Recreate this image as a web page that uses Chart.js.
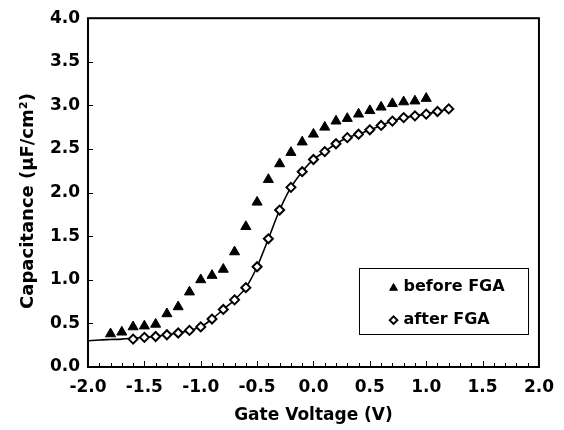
<!DOCTYPE html>
<html><head><meta charset="utf-8">
<script src="https://cdn.jsdelivr.net/npm/chart.js@4.4.1/dist/chart.umd.min.js"></script>
<style>html,body{margin:0;padding:0;background:#fff}</style>
</head><body>
<canvas id="c" width="564" height="430"></canvas>
<script>
// Data
const voltsBefore = [-1.8,-1.7,-1.6,-1.5,-1.4,-1.3,-1.2,-1.1,-1.0,-0.9,-0.8,-0.7,-0.6,-0.5,-0.4,-0.3,-0.2,-0.1,0.0,0.1,0.2,0.3,0.4,0.5,0.6,0.7,0.8,0.9,1.0];
const capBefore   = [0.38,0.40,0.46,0.47,0.49,0.61,0.69,0.86,1.00,1.05,1.12,1.32,1.61,1.89,2.15,2.33,2.46,2.58,2.67,2.75,2.82,2.85,2.90,2.94,2.98,3.02,3.04,3.05,3.08];
const voltsAfter = [-1.6,-1.5,-1.4,-1.3,-1.2,-1.1,-1.0,-0.9,-0.8,-0.7,-0.6,-0.5,-0.4,-0.3,-0.2,-0.1,0.0,0.1,0.2,0.3,0.4,0.5,0.6,0.7,0.8,0.9,1.0,1.1,1.2];
const capAfter   = [0.32,0.34,0.35,0.37,0.39,0.42,0.46,0.55,0.66,0.77,0.91,1.15,1.47,1.80,2.06,2.24,2.38,2.47,2.56,2.63,2.67,2.72,2.77,2.82,2.86,2.88,2.90,2.93,2.96];
const fitVolts = [-2.0,-1.9,-1.8,-1.7,-1.6,-1.5,-1.4,-1.3,-1.2,-1.1,-1.0,-0.9,-0.8,-0.7,-0.6,-0.5,-0.4,-0.3,-0.2,-0.1,0.0,0.1,0.2,0.3,0.4,0.5,0.6,0.7,0.8,0.9,1.0,1.1,1.2];
const fitCap   = [0.30,0.31,0.315,0.32,0.33,0.34,0.35,0.37,0.39,0.42,0.46,0.55,0.66,0.77,0.91,1.15,1.47,1.80,2.06,2.24,2.38,2.47,2.56,2.63,2.67,2.72,2.77,2.82,2.86,2.88,2.90,2.93,2.96];
const seriesNames = ['before FGA','after FGA'];
const xTitle = 'Gate Voltage (V)';
const yTitle = 'Capacitance (\u03BCF/cm\u00B2)';

const toXY = (xs, ys) => xs.map((x, i) => ({x: x, y: ys[i]}));
const FONT = '"DejaVu Sans", sans-serif';

const framePlugin = {
  id: 'frame',
  afterDraw(chart) {
    const {ctx, chartArea: a, scales} = chart;
    const xs = scales.x, ys = scales.y;
    ctx.save();
    ctx.strokeStyle = '#000';
    ctx.lineWidth = 1;
    // y inner ticks
    for (let v = 0; v <= 4.0001; v += 0.5) {
      const py = Math.round(ys.getPixelForValue(v)) + 0.5;
      ctx.beginPath(); ctx.moveTo(a.left, py); ctx.lineTo(a.left + 5, py); ctx.stroke();
    }
    // x inner ticks (minor 0.1)
    for (let i = -20; i <= 20; i++) {
      const px = Math.round(xs.getPixelForValue(i / 10)) + 0.5;
      const len = (i % 5 === 0) ? 6 : 4;
      ctx.beginPath(); ctx.moveTo(px, a.bottom); ctx.lineTo(px, a.bottom - len); ctx.stroke();
    }
    // frame
    ctx.lineWidth = 2;
    ctx.strokeRect(a.left, a.top, a.right - a.left, a.bottom - a.top);
    // y title
    ctx.fillStyle = '#000';
    ctx.font = 'bold 18px ' + FONT;
    ctx.textAlign = 'center';
    ctx.textBaseline = 'middle';
    ctx.translate(28, 201);
    ctx.rotate(-Math.PI / 2);
    ctx.fillText(yTitle, 0, 0);
    ctx.restore();

    // legend box
    ctx.save();
    const lx = xs.getPixelForValue(0.4), rx = xs.getPixelForValue(1.9);
    const ty = ys.getPixelForValue(1.13), by = ys.getPixelForValue(0.37);
    ctx.strokeStyle = '#000';
    ctx.lineWidth = 1;
    ctx.strokeRect(Math.round(lx) + 0.5, Math.round(ty) + 0.5, Math.round(rx - lx), Math.round(by - ty));
    ctx.font = 'bold 16px ' + FONT;
    ctx.textAlign = 'left';
    ctx.textBaseline = 'middle';
    ctx.fillStyle = '#000';
    const y1 = ty + (by - ty) * 0.28, y2 = ty + (by - ty) * 0.78;
    const mx = lx + 35;
    Chart.helpers.drawPoint(ctx, {pointStyle: 'triangle', radius: 4.5, rotation: 0, borderWidth: 1}, mx, y1 + 1);
    ctx.fillStyle = '#fff'; ctx.lineWidth = 2;
    Chart.helpers.drawPoint(ctx, {pointStyle: 'rectRot', radius: 3.8, rotation: 0, borderWidth: 2}, mx, y2);
    ctx.fillStyle = '#000';
    ctx.fillText(seriesNames[0], lx + 45, y1);
    ctx.fillText(seriesNames[1], lx + 45, y2);
    ctx.restore();
  }
};

new Chart(document.getElementById('c'), {
  type: 'scatter',
  data: {
    datasets: [
      {label: seriesNames[0], data: toXY(voltsBefore, capBefore), pointStyle: 'triangle', pointRadius: 5.8,
       backgroundColor: '#000', borderColor: '#000', borderWidth: 1, showLine: false, order: 0},
      {label: seriesNames[1], data: toXY(voltsAfter, capAfter), pointStyle: 'rectRot', pointRadius: 4.5,
       backgroundColor: '#fff', borderColor: '#000', borderWidth: 2, showLine: false, order: 1},
      {label: 'fit', data: toXY(fitVolts, fitCap), showLine: true, pointRadius: 0, borderColor: '#000',
       borderWidth: 1.6, tension: 0.3, order: 2}
    ]
  },
  options: {
    responsive: false,
    animation: false,
    layout: {padding: {left: 0, right: 22, top: 15, bottom: 0}},
    plugins: {legend: {display: false}, tooltip: {enabled: false}},
    scales: {
      x: {
        type: 'linear', min: -2, max: 2,
        grid: {display: false, drawTicks: false},
        border: {display: false},
        ticks: {stepSize: 0.5, padding: 10, color: '#000', font: {family: FONT, weight: 'bold', size: 17},
                callback: v => v.toFixed(1), maxRotation: 0, autoSkip: false},
        title: {display: true, text: xTitle, color: '#000', font: {family: FONT, weight: 'bold', size: 17}, padding: {top: 1, bottom: 4}},
        afterFit: s => { s.height = 63; }
      },
      y: {
        type: 'linear', min: 0, max: 4,
        grid: {display: false, drawTicks: false},
        border: {display: false},
        ticks: {stepSize: 0.5, padding: 8, color: '#000', font: {family: FONT, weight: 'bold', size: 17},
                callback: v => v.toFixed(1)},
        afterFit: s => { s.width = 88; }
      }
    }
  },
  plugins: [framePlugin]
});
</script>
</body></html>
